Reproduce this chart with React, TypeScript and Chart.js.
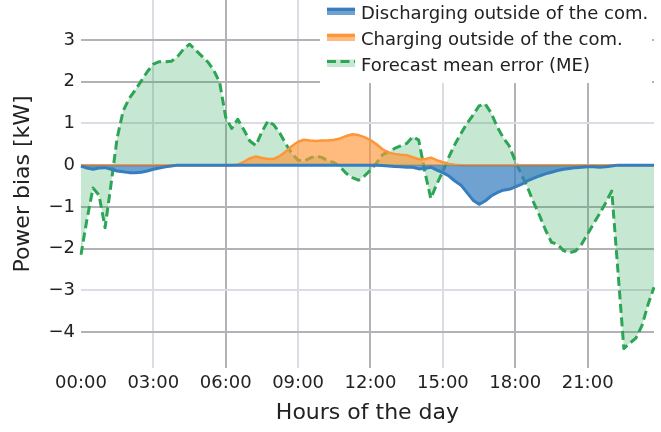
import React, { useEffect, useRef } from 'react';
import { Chart, registerables } from 'chart.js';

Chart.register(...registerables);

// 15-minute time slots of the day
const TIME_LABELS: string[] = [];
for (let h = 0; h < 24; h++) {
  for (let m = 0; m < 60; m += 15) {
    TIME_LABELS.push(`${String(h).padStart(2, '0')}:${String(m).padStart(2, '0')}`);
  }
}

const SERIES_NAMES = [
  'Discharging outside of the com.',
  'Charging outside of the com.',
  'Forecast mean error (ME)',
];

const DISCHARGING = [
  -0.02, -0.07, -0.1, -0.07, -0.06, -0.1, -0.14, -0.16, -0.18, -0.18, -0.17, -0.14,
  -0.1, -0.07, -0.04, -0.02, 0, 0, 0, 0, 0, 0, 0, 0,
  0, 0, 0, 0, 0, 0, 0, 0, 0, 0, 0, 0,
  0, 0, 0, 0, 0, 0, 0, 0, 0, 0, 0, 0,
  0, 0, -0.01, -0.02, -0.03, -0.04, -0.05, -0.05, -0.09, -0.08, -0.05, -0.12,
  -0.18, -0.26, -0.38, -0.48, -0.66, -0.84, -0.94, -0.86, -0.74, -0.66, -0.6, -0.58,
  -0.52, -0.46, -0.38, -0.32, -0.26, -0.21, -0.17, -0.13, -0.1, -0.08, -0.06, -0.05,
  -0.04, -0.04, -0.05, -0.04, -0.02, 0, 0, 0, 0, 0, 0, 0,
];

const CHARGING = [
  0, 0, 0, 0, 0, 0, 0, 0, 0, 0, 0, 0,
  0, 0, 0, 0, 0, 0, 0, 0, 0, 0, 0, 0,
  0, 0, 0.01, 0.08, 0.16, 0.21, 0.17, 0.15, 0.15, 0.22, 0.33, 0.46,
  0.56, 0.61, 0.59, 0.58, 0.59, 0.59, 0.61, 0.64, 0.7, 0.74, 0.72, 0.67,
  0.6, 0.5, 0.38, 0.3, 0.27, 0.25, 0.24, 0.19, 0.14, 0.14, 0.18, 0.12,
  0.07, 0.03, 0.01, 0, 0, 0, 0, 0, 0, 0, 0, 0,
  0, 0, 0, 0, 0, 0, 0, 0, 0, 0, 0, 0,
  0, 0, 0, 0, 0, 0, 0, 0, 0, 0, 0, 0,
];

const FORECAST_ME = [
  -2.15, -1.3, -0.55, -0.72, -1.5, -0.45, 0.65, 1.3, 1.6, 1.8, 2.02, 2.24,
  2.42, 2.48, 2.48, 2.49, 2.6, 2.78, 2.9, 2.76, 2.62, 2.48, 2.28, 1.98,
  1.15, 0.88, 1.1, 0.85, 0.58, 0.47, 0.8, 1.06, 0.96, 0.76, 0.5, 0.27,
  0.12, 0.1, 0.17, 0.22, 0.18, 0.1, 0.06, -0.05, -0.2, -0.3, -0.36, -0.26,
  -0.12, 0.05, 0.25, 0.32, 0.4, 0.46, 0.52, 0.68, 0.6, -0.15, -0.8, -0.45,
  -0.15, 0.2, 0.5, 0.76, 1.0, 1.2, 1.42, 1.47, 1.25, 0.92, 0.66, 0.46,
  0.1, -0.22, -0.52, -0.88, -1.2, -1.55, -1.85, -1.9, -2.05, -2.1, -2.06, -1.9,
  -1.65, -1.4, -1.16, -0.9, -0.62, -2.5, -4.4, -4.27, -4.15, -3.85, -3.35, -2.93,
];

const Y_TICKS = [3, 2, 1, 0, -1, -2, -3, -4];
const Y_DARK = [3, 2, 0, -1, -2, -4];
const X_TICK_STEP = 12; // every 3 hours
const X_DARK = ['06:00', '12:00', '18:00', '21:00'];

const BLUE = 'rgb(55,126,190)';
const BLUE_FILL = 'rgba(55,126,190,0.72)';
const ORANGE = 'rgb(253,150,55)';
const ORANGE_FILL = 'rgba(253,150,55,0.65)';
const GREEN = 'rgb(44,165,85)';
const GREEN_FILL = 'rgba(44,165,85,0.27)';

const DARK_GRID = 'rgb(178,178,183)';
const LIGHT_GRID = 'rgb(220,220,228)';
const TEXT = '#222';
const FONT = '"DejaVu Sans", sans-serif';

const legendPlugin = {
  id: 'customLegend',
  afterDraw(chart: any) {
    const ctx = chart.ctx as CanvasRenderingContext2D;
    const entries = [
      { label: SERIES_NAMES[0], line: BLUE, fill: BLUE_FILL, dash: [] as number[] },
      { label: SERIES_NAMES[1], line: ORANGE, fill: ORANGE_FILL, dash: [] as number[] },
      { label: SERIES_NAMES[2], line: GREEN, fill: GREEN_FILL, dash: [9, 4.5] },
    ];
    ctx.save();
    ctx.fillStyle = '#fff';
    ctx.fillRect(320, 0, 332, 83);
    entries.forEach((e, k) => {
      const top = 7.5 + 26 * k;
      ctx.fillStyle = e.fill;
      ctx.fillRect(327, top, 28, 7.5);
      ctx.strokeStyle = e.line;
      ctx.lineWidth = 3;
      ctx.setLineDash(e.dash);
      ctx.beginPath();
      ctx.moveTo(327, top + 2);
      ctx.lineTo(355, top + 2);
      ctx.stroke();
      ctx.setLineDash([]);
      ctx.fillStyle = TEXT;
      ctx.font = `18px ${FONT}`;
      ctx.textBaseline = 'alphabetic';
      ctx.textAlign = 'left';
      ctx.fillText(e.label, 361, 18.5 + 26 * k);
    });
    ctx.restore();
  },
};

export default function App() {
  const canvasRef = useRef<HTMLCanvasElement | null>(null);

  useEffect(() => {
    if (!canvasRef.current) return;
    Chart.defaults.font.family = FONT;
    const chart = new Chart(canvasRef.current, {
      type: 'line',
      data: {
        labels: TIME_LABELS,
        datasets: [
          {
            label: SERIES_NAMES[0],
            data: DISCHARGING,
            borderColor: BLUE,
            backgroundColor: BLUE_FILL,
            borderWidth: 3,
            fill: 'origin',
            pointRadius: 0,
            tension: 0,
          },
          {
            label: SERIES_NAMES[1],
            data: CHARGING,
            borderColor: ORANGE,
            backgroundColor: ORANGE_FILL,
            borderWidth: 2.5,
            fill: 'origin',
            pointRadius: 0,
            tension: 0,
          },
          {
            label: SERIES_NAMES[2],
            data: FORECAST_ME,
            borderColor: GREEN,
            backgroundColor: GREEN_FILL,
            borderWidth: 3,
            borderDash: [9, 4.5],
            fill: 'origin',
            pointRadius: 0,
            tension: 0,
          },
        ],
      },
      options: {
        animation: false,
        responsive: true,
        maintainAspectRatio: false,
        layout: { padding: { left: 4, right: 7, top: 0, bottom: 0 } },
        plugins: { legend: { display: false }, tooltip: { enabled: false } },
        elements: { line: { borderJoinStyle: 'round' } },
        scales: {
          x: {
            type: 'category',
            offset: false,
            border: { display: false },
            grid: {
              drawTicks: false,
              lineWidth: 2,
              color: (c: any) => {
                const lab = TIME_LABELS[c.tick?.value ?? 0];
                if (lab === '00:00') return 'rgba(0,0,0,0)';
                return X_DARK.includes(lab) ? DARK_GRID : LIGHT_GRID;
              },
            },
            afterBuildTicks: (s: any) => {
              s.ticks = s.ticks.filter((t: any) => t.value % X_TICK_STEP === 0);
            },
            ticks: {
              autoSkip: false,
              maxRotation: 0,
              padding: 5,
              color: TEXT,
              font: { size: 18 },
              callback: (v: any) => TIME_LABELS[v as number],
            },
            title: {
              display: true,
              text: 'Hours of the day',
              color: TEXT,
              font: { size: 22 },
              padding: { top: 0, bottom: 6 },
            },
          },
          y: {
            min: -4.865,
            max: 3.96,
            border: { display: false },
            grid: {
              drawTicks: false,
              lineWidth: 2,
              color: (c: any) => (Y_DARK.includes(c.tick?.value) ? DARK_GRID : LIGHT_GRID),
            },
            afterBuildTicks: (s: any) => {
              s.ticks = Y_TICKS.map((v) => ({ value: v }));
            },
            afterFit: (s: any) => {
              s.paddingTop = 0;
              s.paddingBottom = 0;
            },
            ticks: {
              padding: 6,
              color: TEXT,
              font: { size: 18 },
              callback: (v: any) => (v < 0 ? '\u2212' + Math.abs(v) : String(v)),
            },
            title: {
              display: true,
              text: 'Power bias [kW]',
              color: TEXT,
              font: { size: 22 },
              padding: { top: 6, bottom: 6 },
            },
          },
        },
      },
      plugins: [legendPlugin],
    });
    return () => chart.destroy();
  }, []);

  return (
    <div style={{ position: 'fixed', left: 0, top: 0, width: 661, height: 432, background: '#fff' }}>
      <canvas ref={canvasRef} />
    </div>
  );
}
